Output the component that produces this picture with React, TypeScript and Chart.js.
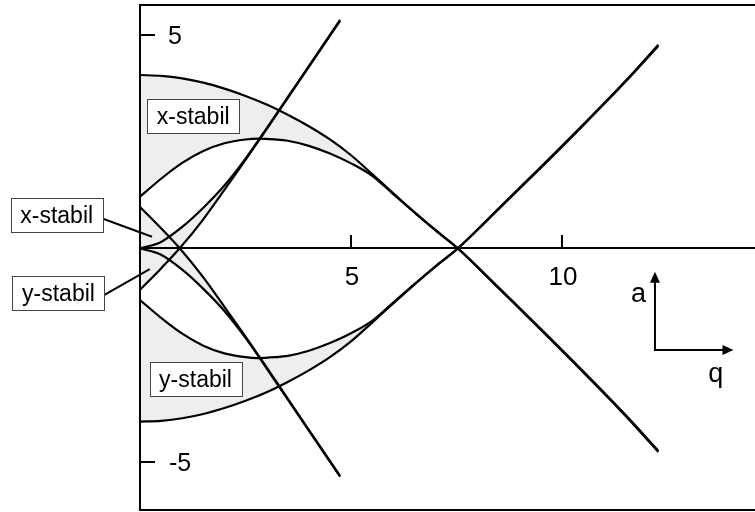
import { useEffect, useRef } from "react";
import { Chart, registerables } from "chart.js";

Chart.register(...registerables);

type Pt = [number, number];

// Characteristic curves of the Mathieu equation, points as [q, a].
// x direction
const b2Curve: Pt[] = [
  [0, 4.06], [0.5, 4.04], [1, 3.98], [1.5, 3.88], [2, 3.74], [2.5, 3.57], [3, 3.37],
  [3.5, 3.13], [4, 2.86], [4.5, 2.55], [5, 2.18], [5.5, 1.74], [6, 1.29], [6.5, 0.85],
  [7, 0.43], [7.53, 0], [8.5, -0.92], [9.5, -1.89], [10.5, -2.88], [11.5, -3.9], [12.28, -4.74],
];
const a1Curve: Pt[] = [
  [0, 1.21], [0.5, 1.63], [1, 2.0], [1.5, 2.28], [2, 2.46], [2.5, 2.55], [2.8, 2.57],
  [3.2, 2.55], [3.5, 2.52], [4, 2.4], [4.5, 2.22], [5, 1.99], [5.5, 1.7], [6, 1.27], [6.5, 0.84],
  [7, 0.42], [7.53, 0], [8.5, -0.94], [9.5, -1.91], [10.5, -2.9], [11.5, -3.92], [12.28, -4.77],
];
const b1Curve: Pt[] = [
  [0, 0.97], [0.5, 0.47], [0.94, 0], [1.5, -0.68], [2, -1.37], [2.5, -2.07],
  [3, -2.79], [3.5, -3.52], [4, -4.25], [4.74, -5.33],
];
const a0Curve: Pt[] = [
  [0, 0], [0.5, -0.15], [1, -0.5], [1.5, -0.95], [2, -1.47], [2.5, -2.1],
  [3, -2.81], [3.5, -3.54], [4, -4.27], [4.74, -5.35],
];
// y direction (a_y = -a_x)
const negA1Curve: Pt[] = [
  [0, -1.21], [0.5, -1.63], [1, -2.0], [1.5, -2.28], [2, -2.46], [2.5, -2.55], [2.8, -2.57],
  [3.2, -2.55], [3.5, -2.52], [4, -2.4], [4.5, -2.22], [5, -1.99], [5.5, -1.7], [6, -1.27], [6.5, -0.84],
  [7, -0.42], [7.53, 0], [8.5, 0.94], [9.5, 1.91], [10.5, 2.9], [11.5, 3.92], [12.28, 4.77],
];
const negB2Curve: Pt[] = [
  [0, -4.06], [0.5, -4.04], [1, -3.98], [1.5, -3.88], [2, -3.74], [2.5, -3.57], [3, -3.37],
  [3.5, -3.13], [4, -2.86], [4.5, -2.55], [5, -2.18], [5.5, -1.74], [6, -1.29], [6.5, -0.85],
  [7, -0.43], [7.53, 0], [8.5, 0.92], [9.5, 1.89], [10.5, 2.88], [11.5, 3.9], [12.28, 4.74],
];
const negA0Curve: Pt[] = [
  [0, 0], [0.5, 0.15], [1, 0.5], [1.5, 0.95], [2, 1.47], [2.5, 2.1],
  [3, 2.81], [3.5, 3.54], [4, 4.27], [4.74, 5.35],
];
const negB1Curve: Pt[] = [
  [0, -0.97], [0.5, -0.47], [0.94, 0], [1.5, 0.68], [2, 1.37], [2.5, 2.07],
  [3, 2.79], [3.5, 3.52], [4, 4.25], [4.74, 5.33],
];

const qTicks = [5, 10];
const aTicks = [5, -5];

// region captions inside the plot, centred at [q, a]
const regionLabels: { text: string; at: Pt }[] = [
  { text: "x-stabil", at: [1.26, 3.1] },
  { text: "y-stabil", at: [1.315, -3.056] },
];
// captions left of the plot with a leader line into the first stability zone
const calloutLabels: { text: string; at: Pt; from: Pt; to: Pt }[] = [
  { text: "x-stabil", at: [-1.974, 0.773], from: [-0.908, 0.703], to: [0.284, 0.272] },
  { text: "y-stabil", at: [-1.931, -1.035], from: [-0.853, -1.094], to: [0.23, -0.485] },
];

const SHADE = "#eeeeee";
const FONT = "'Liberation Sans', Arial, Helvetica, sans-serif";

const toXY = (pts: Pt[]) => pts.map(([q, a]) => ({ x: q, y: a }));

const overlay = {
  id: "overlay",
  afterDatasetsDraw(chart: any) {
    const { ctx, chartArea, scales } = chart;
    const { left, right, top, bottom } = chartArea;
    const xs = scales.x;
    const ys = scales.y;
    const px = (q: number) => xs.getPixelForValue(q);
    const py = (a: number) => ys.getPixelForValue(a);

    ctx.save();
    ctx.strokeStyle = "#000";
    ctx.fillStyle = "#000";
    ctx.lineWidth = 2;
    ctx.lineCap = "butt";

    // frame, open to the right
    ctx.beginPath();
    ctx.moveTo(right + 4, top);
    ctx.lineTo(left, top);
    ctx.lineTo(left, bottom);
    ctx.lineTo(right + 4, bottom);
    ctx.stroke();

    // q axis
    const y0 = Math.round(py(0));
    ctx.beginPath();
    ctx.moveTo(left, y0);
    ctx.lineTo(right + 4, y0);
    ctx.stroke();

    // q ticks
    ctx.textAlign = "center";
    ctx.textBaseline = "alphabetic";
    ctx.font = `26px ${FONT}`;
    qTicks.forEach((v) => {
      const x = Math.round(px(v));
      ctx.beginPath();
      ctx.moveTo(x, y0 - 13);
      ctx.lineTo(x, y0);
      ctx.stroke();
      ctx.fillText(String(v), x + 1, y0 + 37);
    });

    // a ticks
    ctx.font = `25px ${FONT}`;
    aTicks.forEach((v) => {
      const y = Math.round(py(v));
      ctx.beginPath();
      ctx.moveTo(left, y);
      ctx.lineTo(left + 15, y);
      ctx.stroke();
      ctx.textAlign = "center";
      ctx.fillText(v < 0 ? `-${Math.abs(v)}` : String(v), left + (v < 0 ? 40 : 35), y + 9);
    });

    // boxed captions
    const box = (text: string, cx: number, cy: number) => {
      const w = 92;
      const h = 34;
      const bx = Math.round(cx - w / 2) + 0.5;
      const by = Math.round(cy - h / 2) + 0.5;
      ctx.fillStyle = "#fff";
      ctx.fillRect(bx, by, w, h);
      ctx.lineWidth = 1;
      ctx.strokeStyle = "#444";
      ctx.strokeRect(bx, by, w, h);
      ctx.fillStyle = "#000";
      ctx.font = `23px ${FONT}`;
      ctx.textAlign = "center";
      ctx.textBaseline = "alphabetic";
      ctx.fillText(text, cx, cy + 8);
    };

    regionLabels.forEach((l) => box(l.text, px(l.at[0]), py(l.at[1])));

    calloutLabels.forEach((l) => {
      ctx.strokeStyle = "#000";
      ctx.lineWidth = 2;
      ctx.beginPath();
      ctx.moveTo(px(l.from[0]), py(l.from[1]));
      ctx.lineTo(px(l.to[0]), py(l.to[1]));
      ctx.stroke();
      box(l.text, px(l.at[0]), py(l.at[1]));
    });

    // a / q direction arrows
    const cxp = px(12.2);
    const cyp = py(-2.38);
    const tipY = py(-0.55);
    const tipX = px(14.06);
    ctx.strokeStyle = "#000";
    ctx.fillStyle = "#000";
    ctx.lineWidth = 2;
    ctx.beginPath();
    ctx.moveTo(cxp, tipY + 8);
    ctx.lineTo(cxp, cyp);
    ctx.lineTo(tipX - 8, cyp);
    ctx.stroke();
    ctx.beginPath();
    ctx.moveTo(cxp, tipY);
    ctx.lineTo(cxp - 5, tipY + 11);
    ctx.lineTo(cxp + 5, tipY + 11);
    ctx.closePath();
    ctx.fill();
    ctx.beginPath();
    ctx.moveTo(tipX, cyp);
    ctx.lineTo(tipX - 11, cyp - 5);
    ctx.lineTo(tipX - 11, cyp + 5);
    ctx.closePath();
    ctx.fill();

    ctx.font = `27px ${FONT}`;
    ctx.textAlign = "center";
    ctx.textBaseline = "alphabetic";
    ctx.fillText("a", px(11.81), py(-1.25));
    ctx.fillText("q", px(13.64), py(-3.12));

    ctx.restore();
  },
};

export default function App() {
  const canvasRef = useRef<HTMLCanvasElement | null>(null);

  useEffect(() => {
    const canvas = canvasRef.current;
    if (!canvas) return;

    const curve = (pts: Pt[], fill: any) => ({
      data: toXY(pts),
      borderColor: "#000",
      borderWidth: 2.2,
      backgroundColor: SHADE,
      pointRadius: 0,
      cubicInterpolationMode: "monotone" as const,
      fill,
    });

    const chart = new Chart(canvas, {
      type: "line",
      data: {
        datasets: [
          curve(b2Curve, "+1"),
          curve(a1Curve, false),
          curve(b1Curve, "+1"),
          curve(a0Curve, false),
          curve(negA1Curve, "+1"),
          curve(negB2Curve, false),
          curve(negA0Curve, "+1"),
          curve(negB1Curve, false),
        ],
      },
      options: {
        animation: false,
        responsive: false,
        devicePixelRatio: 1,
        layout: { padding: { left: 140, top: 5, right: 0, bottom: 2 } },
        scales: {
          x: { type: "linear", min: 0, max: 14.57, display: false },
          y: { type: "linear", min: -6.13, max: 5.7, display: false },
        },
        plugins: {
          legend: { display: false },
          tooltip: { enabled: false },
          filler: { drawTime: "beforeDatasetsDraw" },
        },
      },
      plugins: [overlay],
    });

    return () => chart.destroy();
  }, []);

  return (
    <div style={{ position: "fixed", left: 0, top: 0, width: 755, height: 512, background: "#fff", overflow: "hidden" }}>
      <canvas ref={canvasRef} width={755} height={512} style={{ display: "block" }} />
    </div>
  );
}
